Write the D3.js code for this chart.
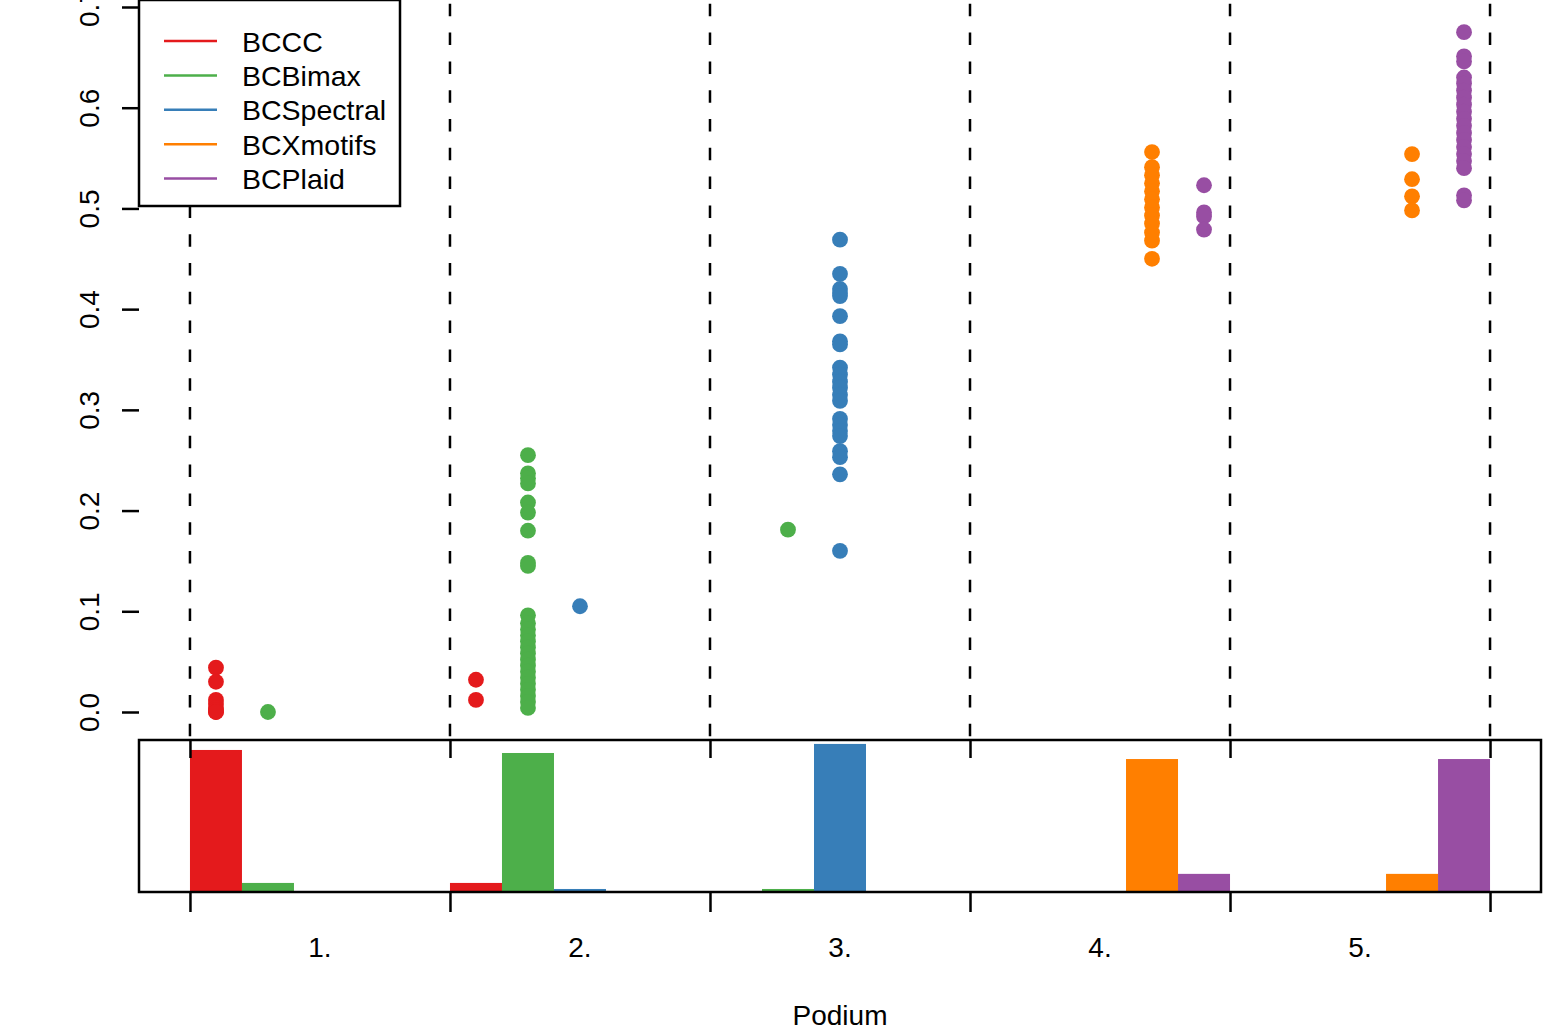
<!DOCTYPE html>
<html>
<head>
<meta charset="UTF-8">
<script src="https://d3js.org/d3.v7.min.js"></script>
<style>
body { margin: 0; background: #fff; }
svg { font-family: "Liberation Sans", Arial, sans-serif; }
.axis .domain { display: none; }
</style>
</head>
<body>
<svg width="1543" height="1031"></svg>
<script>

// methods, colours and podium labels
var methods = ["BCCC", "BCBimax", "BCSpectral", "BCXmotifs", "BCPlaid"];
var colors = ["#E41A1C", "#4DAF4A", "#377EB8", "#FF7F00", "#984EA3"];
var podiums = ["1.", "2.", "3.", "4.", "5."];
var yTicks = [0, 0.1, 0.2, 0.3, 0.4, 0.5, 0.6, 0.7];

// how often each method landed on each podium place (50 runs)
var countsCC = [47, 3, 0, 0, 0];
var countsBimax = [3, 46, 1, 0, 0];
var countsSpectral = [0, 1, 49, 0, 0];
var countsXmotifs = [0, 0, 0, 44, 6];
var countsPlaid = [0, 0, 0, 6, 44];

// 1 - Jaccard scores per podium place (overlapping points merged)
var scoresCC = [
  [0.044, 0.030, 0.012, 0.008, 0.004, 0.002, 0.0, 0.0],
  [0.032, 0.012],
  [], [], []
];
var scoresBimax = [
  [0.0],
  [0.255, 0.237, 0.232, 0.227, 0.208, 0.198, 0.180, 0.148, 0.145,
   0.096, 0.088, 0.082, 0.076, 0.070, 0.064, 0.058, 0.052, 0.046,
   0.040, 0.034, 0.028, 0.022, 0.016, 0.010, 0.004],
  [0.181],
  [], []
];
var scoresSpectral = [
  [],
  [0.105],
  [0.469, 0.435, 0.420, 0.416, 0.413, 0.393, 0.368, 0.365,
   0.342, 0.335, 0.328, 0.322, 0.315, 0.309,
   0.291, 0.285, 0.279, 0.274, 0.259, 0.253, 0.236, 0.160],
  [], []
];
var scoresXmotifs = [
  [], [], [],
  [0.556, 0.541, 0.533, 0.525, 0.517, 0.509, 0.501, 0.493, 0.485, 0.476, 0.468, 0.450],
  [0.554, 0.529, 0.512, 0.498]
];
var scoresPlaid = [
  [], [], [],
  [0.523, 0.496, 0.492, 0.479],
  [0.675, 0.651, 0.646, 0.630, 0.624, 0.617, 0.610, 0.603, 0.596, 0.589,
   0.582, 0.575, 0.568, 0.561, 0.554, 0.547, 0.540, 0.513, 0.508]
];

var counts = [countsCC, countsBimax, countsSpectral, countsXmotifs, countsPlaid];
var scores = [scoresCC, scoresBimax, scoresSpectral, scoresXmotifs, scoresPlaid];

var svg = d3.select("svg"),
    left = 139, right = 1541,
    top = 6, mid = 740, bottom = 892,
    nm = methods.length,
    lw = 2.5;

// one slot per method inside each podium group
var x = d3.scaleLinear()
    .domain([-0.98, podiums.length * nm + 0.98])
    .range([left, right]);

var y = d3.scaleLinear()
    .domain([0, 0.7])
    .range([712, 7]);

var yc = d3.scaleLinear()
    .domain([0, 50.3])
    .range([bottom, mid]);

var groupEdges = d3.range(0, podiums.length * nm + 1, nm);

// dashed separators in the upper panel
svg.append("g")
  .selectAll("line")
  .data(groupEdges)
  .enter().append("line")
    .attr("x1", function(d) { return x(d); })
    .attr("x2", function(d) { return x(d); })
    .attr("y1", top)
    .attr("y2", mid)
    .attr("stroke", "#000")
    .attr("stroke-width", lw)
    .attr("stroke-dasharray", "12.5,16.3")
    .attr("stroke-dashoffset", 25);

// points
var pts = [];
scores.forEach(function(s, m) {
  s.forEach(function(vals, p) {
    vals.forEach(function(v) { pts.push({m: m, p: p, v: v}); });
  });
});

svg.append("g")
  .selectAll("circle")
  .data(pts)
  .enter().append("circle")
    .attr("cx", function(d) { return x(d.p * nm + d.m + 0.5); })
    .attr("cy", function(d) { return y(d.v); })
    .attr("r", 7.9)
    .attr("fill", function(d) { return colors[d.m]; });

// bars in the lower panel
var bars = [];
counts.forEach(function(c, m) {
  c.forEach(function(n, p) { if (n > 0) bars.push({m: m, p: p, n: n}); });
});

svg.append("g")
  .selectAll("rect")
  .data(bars)
  .enter().append("rect")
    .attr("x", function(d) { return x(d.p * nm + d.m); })
    .attr("width", function(d) { return x(d.p * nm + d.m + 1) - x(d.p * nm + d.m); })
    .attr("y", function(d) { return yc(d.n); })
    .attr("height", function(d) { return yc(0) - yc(d.n); })
    .attr("fill", function(d) { return colors[d.m]; });

// panel boxes
svg.append("rect")
    .attr("x", left).attr("y", top)
    .attr("width", right - left).attr("height", mid - top)
    .attr("fill", "none").attr("stroke", "#000").attr("stroke-width", lw);

svg.append("rect")
    .attr("x", left).attr("y", mid)
    .attr("width", right - left).attr("height", bottom - mid)
    .attr("fill", "none").attr("stroke", "#000").attr("stroke-width", lw);

// y axis
var yAxis = svg.append("g")
    .attr("class", "axis")
    .attr("transform", "translate(" + left + ",0)")
    .call(d3.axisLeft(y).tickValues(yTicks).tickSize(17).tickFormat(d3.format(".1f")));

yAxis.selectAll("line").attr("stroke-width", lw);
yAxis.selectAll("text")
    .attr("transform", "rotate(-90)")
    .attr("x", 0)
    .attr("y", -40)
    .attr("dy", null)
    .attr("text-anchor", "middle")
    .attr("font-size", 28)
    .attr("fill", "#000");

// ticks at the top of the lower panel
var midAxis = svg.append("g")
    .attr("class", "axis")
    .attr("transform", "translate(0," + mid + ")")
    .call(d3.axisBottom(x).tickValues(groupEdges).tickSize(18).tickFormat(""));
midAxis.selectAll("line").attr("stroke-width", lw);

// bottom axis
var xAxis = svg.append("g")
    .attr("class", "axis")
    .attr("transform", "translate(0," + bottom + ")")
    .call(d3.axisBottom(x).tickValues(groupEdges).tickSize(20).tickFormat(""));
xAxis.selectAll("line").attr("stroke-width", lw);

svg.append("g")
  .selectAll("text")
  .data(podiums)
  .enter().append("text")
    .attr("x", function(d, i) { return x(i * nm + nm / 2); })
    .attr("y", 957)
    .attr("text-anchor", "middle")
    .attr("font-size", 28)
    .text(function(d) { return d; });

// axis titles
svg.append("text")
    .attr("x", x(podiums.length * nm / 2))
    .attr("y", 1025)
    .attr("text-anchor", "middle")
    .attr("font-size", 28)
    .text("Podium");

svg.append("text")
    .attr("transform", "translate(30," + ((top + mid) / 2) + ") rotate(-90)")
    .attr("text-anchor", "middle")
    .attr("font-size", 28)
    .text("1 \u2212 Jaccard");

// legend
var legend = svg.append("g");

legend.append("rect")
    .attr("x", left).attr("y", top)
    .attr("width", 261).attr("height", 206)
    .attr("fill", "#fff").attr("stroke", "#000").attr("stroke-width", lw);

var item = legend.selectAll("g")
  .data(methods)
  .enter().append("g")
    .attr("transform", function(d, i) { return "translate(0," + (41 + i * 34.4) + ")"; });

item.append("line")
    .attr("x1", 164).attr("x2", 217)
    .attr("stroke", function(d, i) { return colors[i]; })
    .attr("stroke-width", lw);

item.append("text")
    .attr("x", 242)
    .attr("y", 10.5)
    .attr("font-size", 28.5)
    .text(function(d) { return d; });

</script>
</body>
</html>
